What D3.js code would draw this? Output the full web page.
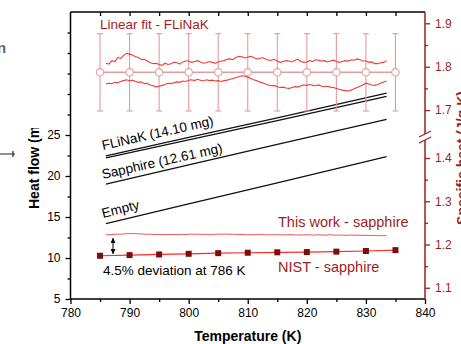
<!DOCTYPE html>
<html>
<head>
<meta charset="utf-8">
<script src="https://cdn.jsdelivr.net/npm/d3@7"></script>
<style>
  body { margin: 0; background: #fff; }
  svg { display: block; }
  text { font-family: "Liberation Sans", Arial, sans-serif; }
</style>
</head>
<body>
<script>
// ---- data ----
const tempTicks = [780, 790, 800, 810, 820, 830, 840];
const flowTicks = [5, 10, 15, 20, 25];
const cpTicksUpper = [1.7, 1.8, 1.9];
const cpTicksLower = [1.1, 1.2, 1.3, 1.4];

// heat flow curves (left axis, mW)
const flowT = [786, 800, 815, 833.5];
const flinakA = [22.45, 24.7, 27.1, 30.1];
const flinakB = [22.2, 24.4, 26.75, 29.7];
const sapphireFlow = [19.0, 21.35, 23.85, 26.9];
const emptyFlow = [14.2, 16.6, 19.15, 22.35];

// NIST sapphire reference (right axis, J/g K)
const nistT = [785, 790, 795, 800, 805, 810, 815, 820, 825, 830, 835];
const nistCp = [1.174, 1.1755, 1.177, 1.1785, 1.180, 1.181, 1.182, 1.1825, 1.1835, 1.185, 1.187];

// linear fit of FLiNaK with error bars
const fitT = [785, 790, 795, 800, 805, 810, 815, 820, 825, 830, 835];
const fitCp = [1.787, 1.787, 1.787, 1.787, 1.787, 1.787, 1.787, 1.787, 1.787, 1.787, 1.787];
const fitErr = [0.089, 0.089, 0.089, 0.089, 0.089, 0.089, 0.089, 0.089, 0.089, 0.089, 0.089];

// measured scans, sampled every 0.5 K from 786 K
const scanStart = 786, scanStep = 0.5;
const flinakUpper = [
  1.808,1.806,1.814,1.812,1.821,1.819,1.826,1.831,1.829,1.827,
  1.823,1.821,1.816,1.817,1.813,1.809,1.807,1.808,1.805,1.803,
  1.808,1.805,1.807,1.810,1.809,1.806,1.811,1.813,1.813,1.810,
  1.812,1.814,1.811,1.808,1.809,1.812,1.810,1.808,1.811,1.813,
  1.814,1.817,1.818,1.816,1.821,1.824,1.823,1.820,1.822,1.824,
  1.821,1.818,1.819,1.821,1.818,1.815,1.815,1.817,1.813,1.810,
  1.812,1.814,1.813,1.811,1.815,1.817,1.812,1.810,1.811,1.814,
  1.812,1.816,1.815,1.813,1.814,1.811,1.813,1.815,1.812,1.810,
  1.812,1.814,1.813,1.816,1.815,1.818,1.816,1.813,1.813,1.810,
  1.811,1.807,1.807,1.809,1.810,1.814];
const flinakLower = [
  1.760,1.762,1.761,1.764,1.763,1.766,1.768,1.770,1.767,1.769,
  1.766,1.764,1.765,1.761,1.762,1.758,1.756,1.753,1.755,1.757,
  1.759,1.762,1.761,1.763,1.765,1.764,1.767,1.766,1.769,1.770,
  1.768,1.771,1.769,1.767,1.770,1.768,1.769,1.767,1.768,1.766,
  1.768,1.769,1.771,1.773,1.775,1.777,1.779,1.778,1.776,1.773,
  1.770,1.768,1.765,1.763,1.760,1.758,1.756,1.757,1.754,1.752,
  1.753,1.751,1.750,1.752,1.754,1.753,1.756,1.758,1.757,1.759,
  1.757,1.756,1.758,1.755,1.754,1.755,1.753,1.752,1.750,1.748,
  1.746,1.745,1.744,1.746,1.749,1.752,1.755,1.758,1.762,1.760,
  1.758,1.757,1.759,1.762,1.765,1.767];
const thisWork = [
  1.2225,1.2230,1.2228,1.2236,1.2240,1.2238,1.2246,1.2250,1.2255,1.2250,
  1.2254,1.2246,1.2244,1.2240,1.2236,1.2240,1.2234,1.2230,1.2233,1.2228,
  1.2231,1.2226,1.2230,1.2234,1.2229,1.2232,1.2236,1.2232,1.2237,1.2240,
  1.2236,1.2238,1.2233,1.2236,1.2231,1.2228,1.2232,1.2236,1.2240,1.2238,
  1.2243,1.2240,1.2236,1.2239,1.2234,1.2230,1.2233,1.2228,1.2226,1.2230,
  1.2225,1.2228,1.2232,1.2228,1.2224,1.2227,1.2222,1.2226,1.2229,1.2225,
  1.2221,1.2224,1.2228,1.2224,1.2220,1.2223,1.2219,1.2222,1.2226,1.2222,
  1.2218,1.2221,1.2225,1.2221,1.2217,1.2220,1.2224,1.2219,1.2216,1.2220,
  1.2217,1.2213,1.2216,1.2220,1.2216,1.2212,1.2215,1.2211,1.2214,1.2210,
  1.2207,1.2210,1.2206,1.2203,1.2206,1.2202];

// ---- layout ----
const W = 461, H = 344;
const plotL = 70.5, plotR = 425, plotT = 12, plotB = 299;
const darkRed = "#a11d1d";
const fitColor = "#e49b9b";

const svg = d3.select("body").append("svg")
  .attr("width", W).attr("height", H);

const x = d3.scaleLinear([780, 840], [plotL, plotR]);
const yL = d3.scaleLinear([5, 40], [plotB, plotT]);
const yUp = d3.scaleLinear([1.645, 1.926], [134, plotT]);
const yLo = d3.scaleLinear([1.074, 1.444], [plotB, 139]);

// ---- axes ----
const axisStyle = (g, color) => {
  g.select(".domain").remove();
  g.selectAll(".tick line").attr("stroke", color).attr("stroke-width", 1.3);
  g.selectAll(".tick text").attr("fill", color).style("font-size", "12px")
    .style("font-family", "'Liberation Sans', Arial, sans-serif");
};

// bottom
svg.append("g").attr("transform", `translate(0,${plotB})`)
  .call(d3.axisBottom(x).tickValues(tempTicks).tickSize(5).tickPadding(4).tickFormat(d3.format("d")))
  .call(g => axisStyle(g, "#000"));
svg.append("g").attr("transform", `translate(0,${plotB})`)
  .call(d3.axisBottom(x).tickValues(d3.range(785, 840, 10)).tickSize(3).tickFormat(""))
  .call(g => axisStyle(g, "#000"));
// top (inward ticks)
svg.append("g").attr("transform", `translate(0,${plotT})`)
  .call(d3.axisTop(x).tickValues(d3.range(785, 840, 5)).tickSize(-4).tickFormat(""))
  .call(g => axisStyle(g, "#000"));
// left
svg.append("g").attr("transform", `translate(${plotL},0)`)
  .call(d3.axisLeft(yL).tickValues(flowTicks).tickSize(5).tickPadding(5))
  .call(g => axisStyle(g, "#000"));
svg.append("g").attr("transform", `translate(${plotL},0)`)
  .call(d3.axisLeft(yL).tickValues([7.5, 12.5, 17.5, 22.5, 27.5, 30, 32.5, 35, 37.5]).tickSize(3).tickFormat(""))
  .call(g => axisStyle(g, "#000"));
// right, two segments
const fmt1 = d3.format(".1f");
svg.append("g").attr("transform", `translate(${plotR},0)`)
  .call(d3.axisRight(yUp).tickValues(cpTicksUpper).tickSize(5).tickPadding(5).tickFormat(fmt1))
  .call(g => axisStyle(g, darkRed));
svg.append("g").attr("transform", `translate(${plotR},0)`)
  .call(d3.axisRight(yUp).tickValues([1.75, 1.85]).tickSize(3).tickFormat(""))
  .call(g => axisStyle(g, darkRed));
svg.append("g").attr("transform", `translate(${plotR},0)`)
  .call(d3.axisRight(yLo).tickValues(cpTicksLower).tickSize(5).tickPadding(5).tickFormat(fmt1))
  .call(g => axisStyle(g, darkRed));
svg.append("g").attr("transform", `translate(${plotR},0)`)
  .call(d3.axisRight(yLo).tickValues([1.15, 1.25, 1.35]).tickSize(3).tickFormat(""))
  .call(g => axisStyle(g, darkRed));

// frame lines
const frame = svg.append("g").attr("stroke-width", 1.5).attr("fill", "none");
frame.append("line").attr("x1", plotL).attr("x2", plotR).attr("y1", plotT).attr("y2", plotT).attr("stroke", "#000");
frame.append("line").attr("x1", plotL).attr("x2", plotR).attr("y1", plotB).attr("y2", plotB).attr("stroke", "#000");
frame.append("line").attr("x1", plotL).attr("x2", plotL).attr("y1", plotT).attr("y2", plotB).attr("stroke", "#000");
frame.append("line").attr("x1", plotR).attr("x2", plotR).attr("y1", plotT).attr("y2", 134).attr("stroke", darkRed);
frame.append("line").attr("x1", plotR).attr("x2", plotR).attr("y1", 140).attr("y2", plotB).attr("stroke", darkRed);
// break marks
frame.append("line").attr("x1", plotR - 6).attr("y1", 137).attr("x2", plotR + 6).attr("y2", 131).attr("stroke", darkRed).attr("stroke-width", 1.2);
frame.append("line").attr("x1", plotR - 6).attr("y1", 143).attr("x2", plotR + 6).attr("y2", 137).attr("stroke", darkRed).attr("stroke-width", 1.2);

// ---- heat flow curves ----
const flowLine = d3.line().x((d, i) => x(flowT[i])).y(d => yL(d));
[flinakA, flinakB, sapphireFlow, emptyFlow].forEach(s => {
  svg.append("path").datum(s).attr("d", flowLine)
    .attr("fill", "none").attr("stroke", "#111").attr("stroke-width", 1.3);
});

// ---- linear fit with error bars ----
const fitG = svg.append("g").attr("stroke", fitColor).attr("stroke-width", 1.1);
fitT.forEach((t, i) => {
  const cx = x(t), y1 = yUp(fitCp[i] + fitErr[i]), y2 = yUp(fitCp[i] - fitErr[i]);
  fitG.append("line").attr("x1", cx).attr("x2", cx).attr("y1", y1).attr("y2", y2);
  fitG.append("line").attr("x1", cx - 3).attr("x2", cx + 3).attr("y1", y1).attr("y2", y1);
  fitG.append("line").attr("x1", cx - 3).attr("x2", cx + 3).attr("y1", y2).attr("y2", y2);
});
fitG.append("path").datum(fitCp)
  .attr("d", d3.line().x((d, i) => x(fitT[i])).y(d => yUp(d)))
  .attr("fill", "none").attr("stroke-width", 1.5);
fitG.selectAll("circle").data(fitCp).join("circle")
  .attr("cx", (d, i) => x(fitT[i])).attr("cy", d => yUp(d)).attr("r", 3.7)
  .attr("fill", "#fff");

// ---- noisy scans ----
const scanLine = yScale => d3.line().x((d, i) => x(scanStart + i * scanStep)).y(d => yScale(d));
svg.append("path").datum(flinakUpper).attr("d", scanLine(yUp))
  .attr("fill", "none").attr("stroke", "#f03a3a").attr("stroke-width", 1.1);
svg.append("path").datum(flinakLower).attr("d", scanLine(yUp))
  .attr("fill", "none").attr("stroke", "#f03a3a").attr("stroke-width", 1.1);
svg.append("path").datum(thisWork).attr("d", scanLine(yLo))
  .attr("fill", "none").attr("stroke", "#f25050").attr("stroke-width", 1);

// ---- NIST sapphire ----
svg.append("path").datum(nistCp)
  .attr("d", d3.line().x((d, i) => x(nistT[i])).y(d => yLo(d)))
  .attr("fill", "none").attr("stroke", "#ff2a2a").attr("stroke-width", 1.2);
svg.selectAll("rect.nist").data(nistCp).join("rect").attr("class", "nist")
  .attr("x", (d, i) => x(nistT[i]) - 3).attr("y", d => yLo(d) - 3)
  .attr("width", 6).attr("height", 6).attr("fill", "#7d0c0c");

// ---- double arrow ----
const defs = svg.append("defs");
defs.append("marker").attr("id", "ah").attr("viewBox", "0 -5 10 10")
  .attr("refX", 10).attr("refY", 0).attr("markerWidth", 5).attr("markerHeight", 5)
  .attr("markerUnits", "userSpaceOnUse").attr("orient", "auto-start-reverse")
  .append("path").attr("d", "M0,-5L10,0L0,5Z").attr("fill", "#000");
svg.append("line").attr("x1", 113).attr("x2", 113).attr("y1", 238).attr("y2", 254)
  .attr("stroke", "#000").attr("stroke-width", 1)
  .attr("marker-start", "url(#ah)").attr("marker-end", "url(#ah)");

// ---- labels ----
svg.append("text").attr("x", 100).attr("y", 29).attr("fill", darkRed)
  .style("font-size", "13.5px").text("Linear fit - FLiNaK");
svg.append("text").attr("transform", "translate(103,150) rotate(-12.7)")
  .style("font-size", "13.5px").text("FLiNaK (14.10 mg)");
svg.append("text").attr("transform", "translate(103,179) rotate(-12.6)")
  .style("font-size", "13.5px").text("Sapphire (12.61 mg)");
svg.append("text").attr("transform", "translate(103,218) rotate(-14)")
  .style("font-size", "13.5px").text("Empty");
svg.append("text").attr("x", 278).attr("y", 227).attr("fill", darkRed)
  .style("font-size", "14.5px").text("This work - sapphire");
svg.append("text").attr("x", 278).attr("y", 272).attr("fill", darkRed)
  .style("font-size", "14.5px").text("NIST - sapphire");
svg.append("text").attr("x", 103).attr("y", 275)
  .style("font-size", "13.5px").text("4.5% deviation at 786 K");

// axis titles
svg.append("text").attr("x", (plotL + plotR) / 2).attr("y", 341)
  .attr("text-anchor", "middle").style("font-size", "14px").style("font-weight", "bold")
  .text("Temperature (K)");
defs.append("clipPath").attr("id", "yclip")
  .append("rect").attr("x", 0).attr("y", 128).attr("width", 60).attr("height", 200);
svg.append("g").attr("clip-path", "url(#yclip)")
  .append("text").attr("transform", "translate(39,209) rotate(-90)")
  .style("font-size", "14px").style("font-weight", "bold")
  .text("Heat flow (mW)");
svg.append("text").attr("transform", "translate(467,158) rotate(-90)")
  .attr("text-anchor", "middle").attr("fill", darkRed)
  .style("font-size", "14px").style("font-weight", "bold")
  .text("Specific heat (J/g K)");

// stray bits at the left edge of the cropped figure
svg.append("text").attr("x", -3).attr("y", 53).attr("fill", "#666")
  .style("font-size", "15px").style("font-weight", "bold").text("n");
svg.append("path").attr("d", "M0,154H15M13,151V157")
  .attr("stroke", "#222").attr("stroke-width", 1.2).attr("fill", "none");
</script>
</body>
</html>
